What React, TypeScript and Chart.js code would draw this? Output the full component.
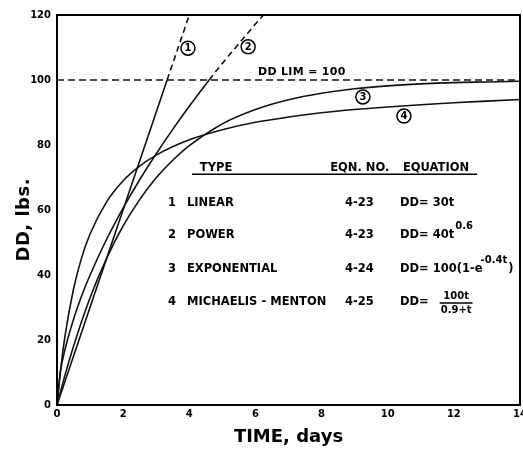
import React, { useEffect, useRef } from 'react';
import { Chart, registerables } from 'chart.js';

Chart.register(...registerables);

const xTickValues = [0, 2, 4, 6, 8, 10, 12, 14];
const yTickValues = [0, 20, 40, 60, 80, 100, 120];

const linearT = [0, 3.33, 4];
const linearDD = [0, 100, 120];

const powerT = [0, 0.1, 0.25, 0.5, 0.75, 1, 1.5, 2, 2.5, 3, 3.5, 4, 4.6, 5, 5.5, 6, 6.24];
const powerDD = [0, 10.0, 17.4, 26.4, 33.7, 40, 51.0, 60.6, 69.3, 77.3, 84.8, 91.9, 100, 105.1, 111.2, 117.2, 120];

const expT = [0, 0.25, 0.5, 1, 1.5, 2, 2.5, 3, 3.5, 4, 5, 6, 7, 8, 9, 10, 11, 12, 13, 14];
const expDD = [0, 9.5, 18.1, 33.0, 45.1, 55.1, 63.2, 69.9, 75.3, 79.8, 86.5, 90.9, 93.9, 95.9, 97.3, 98.2, 98.8, 99.2, 99.4, 99.6];

const mmT = [0, 0.1, 0.25, 0.5, 0.75, 1, 1.5, 2, 2.5, 3, 4, 5, 6, 7, 8, 9, 10, 11, 12, 13, 14];
const mmDD = [0, 10.0, 21.7, 35.7, 45.5, 52.6, 62.5, 69.0, 73.5, 76.9, 81.6, 84.7, 87.0, 88.6, 89.9, 90.9, 91.7, 92.4, 93.0, 93.5, 94.0];

const limT = [0, 14];
const limDD = [100, 100];

const curveNumbers = ['1', '2', '3', '4'];
const typeNames = ['LINEAR', 'POWER', 'EXPONENTIAL', 'MICHAELIS - MENTON'];
const eqnNumbers = ['4-23', '4-23', '4-24', '4-25'];
const headers = ['TYPE', 'EQN. NO.', 'EQUATION'];
const limLabel = 'DD LIM = 100';
const xTitle = 'TIME, days';
const yTitle = 'DD, lbs.';

const toPoints = (xs: number[], ys: number[]) => xs.map((x, i) => ({ x, y: ys[i] }));

const FONT = '"DejaVu Sans", "Liberation Sans", sans-serif';

const annotPlugin = {
  id: 'annot',
  afterDatasetsDraw(chart: any) {
    const { ctx, chartArea: a, scales } = chart;
    const xs = scales.x;
    const ys = scales.y;
    const X = (v: number) => xs.getPixelForValue(v);
    const Y = (v: number) => ys.getPixelForValue(v);
    ctx.save();
    // frame
    ctx.strokeStyle = '#000';
    ctx.lineWidth = 2;
    ctx.strokeRect(a.left, a.top, a.right - a.left, a.bottom - a.top);

    // y axis title
    ctx.save();
    ctx.translate(24, Y(57));
    ctx.rotate(-Math.PI / 2);
    ctx.textAlign = 'center';
    ctx.textBaseline = 'middle';
    ctx.fillStyle = '#000';
    ctx.font = `bold 18px ${FONT}`;
    (ctx as any).letterSpacing = '0.5px';
    ctx.fillText(yTitle, 0, 0);
    ctx.restore();

    ctx.fillStyle = '#000';
    ctx.textBaseline = 'middle';
    ctx.textAlign = 'left';
    (ctx as any).letterSpacing = '0.3px';
    ctx.font = `bold 11px ${FONT}`;
    ctx.fillText(limLabel, X(6.08), Y(102.4));
    (ctx as any).letterSpacing = '0px';

    // circled curve numbers
    const circ = [[3.96, 109.8], [5.78, 110.2], [9.25, 94.8], [10.49, 88.9]];
    ctx.lineWidth = 1.5;
    curveNumbers.forEach((n, i) => {
      const cx = X(circ[i][0]);
      const cy = Y(circ[i][1]);
      ctx.beginPath();
      ctx.arc(cx, cy, 7, 0, Math.PI * 2);
      ctx.fillStyle = '#fff';
      ctx.fill();
      ctx.stroke();
      ctx.fillStyle = '#000';
      ctx.textAlign = 'center';
      ctx.font = `bold 10px ${FONT}`;
      ctx.fillText(n, cx, cy + 0.5);
    });

    // table header
    ctx.textAlign = 'left';
    const big = `bold 11.5px ${FONT}`;
    const small = `bold 10px ${FONT}`;
    ctx.font = big;
    const hx = [4.32, 8.26, 10.46];
    headers.forEach((h, i) => ctx.fillText(h, X(hx[i]), Y(72.9)));
    ctx.beginPath();
    ctx.lineWidth = 1.5;
    ctx.moveTo(X(4.08), Y(71.0));
    ctx.lineTo(X(12.7), Y(71.0));
    ctx.stroke();

    const rowY = [62.2, 52.3, 41.8, 31.7];
    rowY.forEach((ry, i) => {
      const py = Y(ry);
      ctx.font = big;
      ctx.textAlign = 'center';
      ctx.fillText(curveNumbers[i], X(3.48), py);
      ctx.textAlign = 'left';
      ctx.fillText(typeNames[i], X(3.93), py);
      ctx.fillText(eqnNumbers[i], X(8.71), py);
      const ex = X(10.37);
      if (i === 0) {
        ctx.fillText('DD= 30t', ex, py);
      } else if (i === 1) {
        const s = 'DD= 40t';
        ctx.fillText(s, ex, py);
        const w = ctx.measureText(s).width;
        ctx.font = small;
        ctx.fillText('0.6', ex + w + 1, py - 9);
      } else if (i === 2) {
        const s = 'DD= 100(1-e';
        ctx.fillText(s, ex, py);
        const w = ctx.measureText(s).width;
        ctx.font = small;
        const sup = '-0.4t';
        ctx.fillText(sup, ex + w - 2, py - 9);
        const w2 = ctx.measureText(sup).width;
        ctx.font = big;
        ctx.fillText(')', ex + w - 2 + w2 + 1, py);
      } else {
        const s = 'DD=';
        ctx.fillText(s, ex, py);
        const w = ctx.measureText(s).width;
        const fx = ex + w + 12;
        ctx.font = small;
        const num = '100t';
        const den = '0.9+t';
        const wn = ctx.measureText(num).width;
        const wd = ctx.measureText(den).width;
        const fw = Math.max(wn, wd);
        ctx.textAlign = 'center';
        ctx.fillText(num, fx + fw / 2, py - 6);
        ctx.fillText(den, fx + fw / 2, py + 8);
        ctx.beginPath();
        ctx.lineWidth = 1.3;
        ctx.moveTo(fx - 1, py + 1);
        ctx.lineTo(fx + fw + 1, py + 1);
        ctx.stroke();
        ctx.textAlign = 'left';
      }
    });
    ctx.restore();
  },
};

export default function App() {
  const ref = useRef<HTMLCanvasElement>(null);
  useEffect(() => {
    if (!ref.current) return;
    const dash = (ctx: any) => (ctx.p0.parsed.y >= 99.9 ? [6, 4] : undefined);
    const line = (data: any, extra: any = {}) => ({
      data,
      showLine: true,
      borderColor: '#111',
      borderWidth: 1.6,
      pointRadius: 0,
      fill: false,
      cubicInterpolationMode: 'monotone',
      ...extra,
    });
    const chart = new Chart(ref.current, {
      type: 'scatter',
      data: {
        datasets: [
          line(toPoints(limT, limDD), { borderDash: [7, 4], borderWidth: 1.7 }),
          line(toPoints(linearT, linearDD), { segment: { borderDash: dash } }),
          line(toPoints(powerT, powerDD), { segment: { borderDash: dash } }),
          line(toPoints(expT, expDD)),
          line(toPoints(mmT, mmDD)),
        ],
      },
      options: {
        responsive: false,
        animation: false,
        events: [],
        layout: { padding: { left: 0, right: 3, top: 15, bottom: 0 } },
        plugins: { legend: { display: false }, tooltip: { enabled: false } },
        scales: {
          x: {
            type: 'linear',
            min: 0,
            max: 14,
            afterBuildTicks: (s: any) => {
              s.ticks = xTickValues.map((v) => ({ value: v }));
            },
            afterFit: (s: any) => {
              s.height = 44;
              s.paddingLeft = 0;
              s.paddingRight = 0;
            },
            grid: { display: false, drawTicks: false },
            border: { display: false },
            ticks: {
              color: '#000',
              padding: 3,
              maxRotation: 0,
              font: { family: FONT, size: 10, weight: 'bold' },
            },
            title: {
              display: true,
              text: xTitle,
              color: '#000',
              padding: { top: 0, bottom: 1 },
              font: { family: FONT, size: 18, weight: 'bold' },
            },
          },
          y: {
            type: 'linear',
            min: 0,
            max: 120,
            afterBuildTicks: (s: any) => {
              s.ticks = yTickValues.map((v) => ({ value: v }));
            },
            afterFit: (s: any) => {
              s.width = 57;
              s.paddingTop = 0;
              s.paddingBottom = 0;
            },
            grid: { display: false, drawTicks: false },
            border: { display: false },
            ticks: {
              color: '#000',
              padding: 6,
              font: { family: FONT, size: 10, weight: 'bold' },
            },
            title: { display: false },
          },
        },
      } as any,
      plugins: [annotPlugin],
    } as any);
    return () => chart.destroy();
  }, []);
  return (
    <div style={{ position: 'absolute', left: 0, top: 0, width: 523, height: 449, background: '#fff' }}>
      <canvas ref={ref} width={523} height={449} />
    </div>
  );
}
